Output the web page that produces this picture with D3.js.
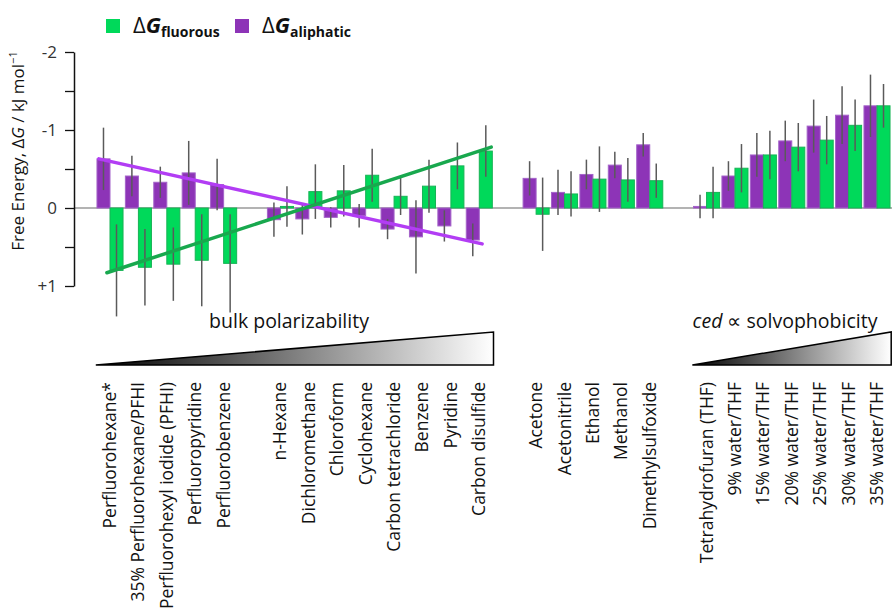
<!DOCTYPE html>
<html>
<head>
<meta charset="utf-8">
<script src="https://cdn.jsdelivr.net/npm/d3@7"></script>
<style>
  html, body { margin: 0; padding: 0; background: #fff; }
  svg { display: block; font-family: "Open Sans", "Noto Sans", sans-serif; }
</style>
</head>
<body>
<svg id="chart" width="892" height="610"></svg>
<script>
// ---- data (null = blank spacer slot) ----
const categories = [
  "Perfluorohexane*", "35% Perfluorohexane/PFHI", "Perfluorohexyl iodide (PFHI)", "Perfluoropyridine", "Perfluorobenzene",
  null,
  "n-Hexane", "Dichloromethane", "Chloroform", "Cyclohexane", "Carbon tetrachloride", "Benzene", "Pyridine", "Carbon disulfide",
  null,
  "Acetone", "Acetonitrile", "Ethanol", "Methanol", "Dimethylsulfoxide",
  null,
  "Tetrahydrofuran (THF)", "9% water/THF", "15% water/THF", "20% water/THF", "25% water/THF", "30% water/THF", "35% water/THF"
];
const aliphatic = [
  -0.63, -0.41, -0.33, -0.45, -0.30,
  null,
  0.15, 0.14, 0.12, 0.10, 0.27, 0.37, 0.23, 0.41,
  null,
  -0.38, -0.20, -0.43, -0.55, -0.81,
  null,
  -0.02, -0.41, -0.68, -0.86, -1.05, -1.19, -1.31
];
const aliphaticErr = [
  0.40, 0.26, 0.20, 0.41, 0.33,
  null,
  0.22, 0.20, 0.13, 0.15, 0.13, 0.47, 0.20, 0.21,
  null,
  0.22, 0.29, 0.19, 0.17, 0.15,
  null,
  0.15, 0.19, 0.28, 0.26, 0.34, 0.37, 0.40
];
const fluorous = [
  0.80, 0.76, 0.72, 0.67, 0.71,
  null,
  -0.02, -0.21, -0.22, -0.42, -0.15, -0.28, -0.54, -0.73,
  null,
  0.08, -0.18, -0.37, -0.36, -0.35,
  null,
  -0.20, -0.51, -0.68, -0.78, -0.87, -1.06, -1.31
];
const fluorousErr = [
  0.59, 0.49, 0.47, 0.59, 0.63,
  null,
  0.26, 0.35, 0.33, 0.34, 0.24, 0.34, 0.30, 0.33,
  null,
  0.47, 0.29, 0.42, 0.28, 0.22,
  null,
  0.33, 0.31, 0.31, 0.31, 0.31, 0.33, 0.28
];
// trend lines: [slot position, value]
const trendAliphatic = [[-0.39, -0.63], [13.1, 0.46]];
const trendFluorous  = [[-0.11, 0.83], [13.42, -0.78]];
const yTicks = [-2, -1.5, -1, -0.5, 0, 0.5, 1];
const yTickLabels = {"-2": "-2", "-1": "-1", "0": "0", "1": "+1"};
const seriesNames = ["aliphatic", "fluorous"];
const gradientRanges = [[0, 13], [21, 27]];

// ---- styles ----
const colors = { aliphatic: "#8D34B7", fluorous: "#00D95A" };
const strokes = { aliphatic: "#A463C9", fluorous: "#17B355" };
const trendColors = { aliphatic: "#B23DF4", fluorous: "#18A84E" };

const svg = d3.select("#chart");
const idx = d3.range(categories.length);

const x = d3.scaleBand().domain(idx).range([95.8, 891.2]).padding(0);
const x1 = d3.scaleBand().domain(seriesNames).range([0, x.bandwidth()]).paddingInner(0).paddingOuter(0.09);
const y = d3.scaleLinear().domain([-2, 1]).range([52, 286]);
const xs = d3.scaleLinear().domain([0, 1]).range([x(0) + x.bandwidth() / 2, x(1) + x.bandwidth() / 2]);

// defs gradient
const defs = svg.append("defs");
const grad = defs.append("linearGradient").attr("id", "g1").attr("x1", "0%").attr("x2", "100%");
grad.append("stop").attr("offset", "0%").attr("stop-color", "#000");
grad.append("stop").attr("offset", "100%").attr("stop-color", "#fff");

// zero line
svg.append("line")
  .attr("x1", 74).attr("x2", 892)
  .attr("y1", y(0)).attr("y2", y(0))
  .attr("stroke", "#9a9a9a").attr("stroke-width", 1.6);

// bars
const data = [];
idx.forEach(i => {
  if (categories[i] === null) return;
  data.push({ i, s: "aliphatic", v: aliphatic[i], e: aliphaticErr[i] });
  data.push({ i, s: "fluorous", v: fluorous[i], e: fluorousErr[i] });
});

svg.append("g").selectAll("rect").data(data).join("rect")
  .attr("x", d => x(d.i) + x1(d.s))
  .attr("width", x1.bandwidth())
  .attr("y", d => Math.min(y(d.v), y(0)))
  .attr("height", d => Math.abs(y(d.v) - y(0)))
  .attr("fill", d => colors[d.s])
  .attr("stroke", d => strokes[d.s])
  .attr("stroke-width", 1);

// error bars
svg.append("g").selectAll("line").data(data).join("line")
  .attr("x1", d => x(d.i) + x1(d.s) + x1.bandwidth() / 2)
  .attr("x2", d => x(d.i) + x1(d.s) + x1.bandwidth() / 2)
  .attr("y1", d => y(d.v - d.e))
  .attr("y2", d => y(d.v + d.e))
  .attr("stroke", "#5a5a5a").attr("stroke-width", 1.5);

// trend lines
const line = d3.line().x(d => xs(d[0])).y(d => y(d[1]));
svg.append("path").attr("d", line(trendAliphatic))
  .attr("fill", "none").attr("stroke", trendColors.aliphatic).attr("stroke-width", 3.5).attr("stroke-linecap", "round");
svg.append("path").attr("d", line(trendFluorous))
  .attr("fill", "none").attr("stroke", trendColors.fluorous).attr("stroke-width", 3.5).attr("stroke-linecap", "round");

// y axis
const yAxis = d3.axisLeft(y)
  .tickValues(yTicks)
  .tickFormat(d => yTickLabels[String(d)] || "")
  .tickSize(9).tickSizeOuter(0).tickPadding(8);
const ga = svg.append("g").attr("transform", "translate(74,0)").call(yAxis);
ga.select(".domain").attr("stroke", "#111").attr("stroke-width", 1.5);
ga.selectAll(".tick line").attr("stroke", "#111").attr("stroke-width", 1.3);
ga.selectAll(".tick text").attr("font-size", 17).attr("fill", "#333")
  .attr("font-family", "'Open Sans', sans-serif");

// y label
const yl = svg.append("text")
  .attr("transform", "translate(24,151) rotate(-90)")
  .attr("text-anchor", "middle").attr("font-size", 17).attr("fill", "#111");
yl.append("tspan").text("Free Energy, \u0394");
yl.append("tspan").attr("font-style", "italic").text("G");
yl.append("tspan").text(" / kJ mol");
yl.append("tspan").attr("font-size", 11).attr("dy", -7).text("\u22121");

// category labels
svg.append("g").selectAll("text").data(idx.filter(i => categories[i] !== null)).join("text")
  .attr("transform", i => `translate(${x(i) + x.bandwidth() / 2 + 6},382) rotate(-90)`)
  .attr("text-anchor", "end").attr("font-size", 17.5).attr("fill", "#111")
  .text(i => categories[i]);

// gradient triangles
gradientRanges.forEach(([a, b]) => {
  const x0 = x(a), x2 = x(b) + x.bandwidth();
  svg.append("path")
    .attr("d", `M${x0},365 L${x2},365 L${x2},332 Z`)
    .attr("fill", "url(#g1)").attr("stroke", "#000").attr("stroke-width", 1.5)
    .attr("stroke-linejoin", "miter");
});

// triangle labels
svg.append("text").attr("x", 289).attr("y", 328)
  .attr("text-anchor", "middle").attr("font-size", 19.5).attr("fill", "#111")
  .text("bulk polarizability");
const t2 = svg.append("text").attr("x", 785).attr("y", 328)
  .attr("text-anchor", "middle").attr("font-size", 19.5).attr("fill", "#111");
t2.append("tspan").attr("font-style", "italic").text("ced");
t2.append("tspan").text(" \u221D solvophobicity");

// legend
const legend = [
  { s: "fluorous", x: 106, label: "fluorous" },
  { s: "aliphatic", x: 235, label: "aliphatic" }
];
legend.forEach(l => {
  svg.append("rect").attr("x", l.x).attr("y", 19).attr("width", 14).attr("height", 14)
    .attr("fill", colors[l.s]);
  const t = svg.append("text").attr("x", l.x + 27).attr("y", 33).attr("fill", "#111");
  t.append("tspan").attr("font-size", 22).text("\u0394");
  t.append("tspan").attr("font-size", 22).attr("font-weight", "bold").attr("font-style", "italic").text("G");
  t.append("tspan").attr("font-size", 14).attr("font-weight", "bold").attr("dy", 4).text(l.label);
});
</script>
</body>
</html>
